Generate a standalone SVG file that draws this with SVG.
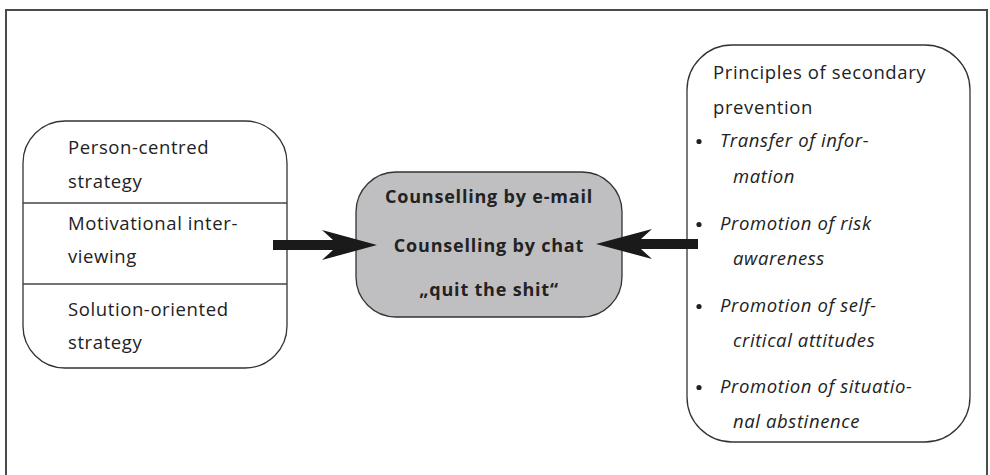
<svg xmlns="http://www.w3.org/2000/svg" width="990" height="475" viewBox="0 0 990 475">
<style>
.frame{fill:none;stroke:#4a4a4a;stroke-width:2}
.box{fill:#fff;stroke:#333;stroke-width:1.3}
.center{fill:#bfbfc1;stroke:#333;stroke-width:1.3}
.div{stroke:#444;stroke-width:1.3}
.t{font-family:"Open Sans","Noto Sans",sans-serif;font-size:18.5px;letter-spacing:0.6px;fill:#222}
.i{font-style:italic}
.b{font-weight:bold;font-size:18px;letter-spacing:0.8px;text-anchor:middle}
.arrow{fill:#1a1a1a}
.dot{fill:#222}
</style>
<rect class="frame" x="6" y="10" width="981" height="520"/>
<g id="left-box">
<rect class="box" x="23" y="121" width="264" height="247" rx="42" ry="42"/>
<line class="div" x1="23" y1="203" x2="287" y2="203"/>
<line class="div" x1="23" y1="284" x2="287" y2="284"/>
<text class="t" x="68" y="154">Person-centred</text>
<text class="t" x="68" y="188">strategy</text>
<text class="t" x="68" y="230">Motivational inter-</text>
<text class="t" x="68" y="263">viewing</text>
<text class="t" x="68" y="316">Solution-oriented</text>
<text class="t" x="68" y="349">strategy</text>
</g>
<g id="center-box">
<rect class="center" x="356" y="172" width="266" height="145" rx="40" ry="40"/>
<text class="t b" x="489" y="203">Counselling by e-mail</text>
<text class="t b" x="489" y="252">Counselling by chat</text>
<text class="t b" x="489" y="296">„quit the shit“</text>
</g>
<g id="right-box">
<rect class="box" x="687" y="45" width="283" height="397" rx="45" ry="45"/>
<text class="t" x="713" y="79">Principles of secondary</text>
<text class="t" x="713" y="114">prevention</text>
<circle class="dot" cx="699" cy="141.5" r="2.6"/>
<text class="t i" x="720" y="147">Transfer of infor-</text>
<text class="t i" x="733" y="183">mation</text>
<circle class="dot" cx="699" cy="224.5" r="2.6"/>
<text class="t i" x="720" y="230">Promotion of risk</text>
<text class="t i" x="733" y="265">awareness</text>
<circle class="dot" cx="699" cy="306.5" r="2.6"/>
<text class="t i" x="720" y="312">Promotion of self-</text>
<text class="t i" x="733" y="347">critical attitudes</text>
<circle class="dot" cx="699" cy="387.5" r="2.6"/>
<text class="t i" x="720" y="393">Promotion of situatio-</text>
<text class="t i" x="733" y="428">nal abstinence</text>
</g>
<g id="connectors">
<polygon class="arrow" points="273,240 333,240 322,230 377,245 322,260 333,250 273,250"/>
<polygon class="arrow" points="698,239 641,239 652,229 596,244 652,259 641,249 698,249"/>
</g>
</svg>
